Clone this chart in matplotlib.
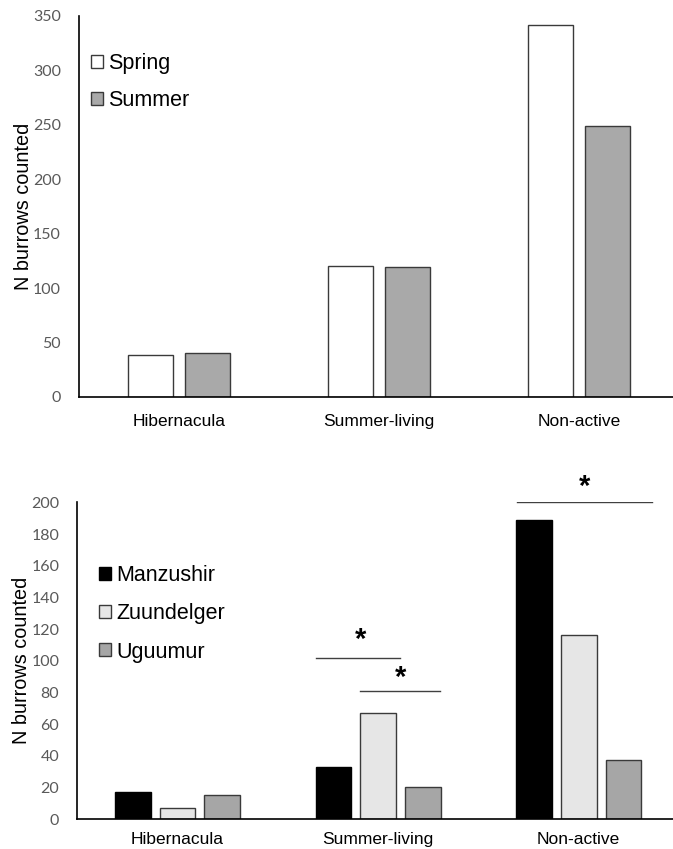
import matplotlib.pyplot as plt
import numpy as np

# ---- data ----
habitats = ["Hibernacula", "Summer-living", "Non-active"]

seasons = ["Spring", "Summer"]
spring = [39, 120, 342]
summer = [40, 119, 249]

sites = ["Manzushir", "Zuundelger", "Uguumur"]
manzushir = [17, 33, 189]
zuundelger = [7, 67, 116]
uguumur = [15, 20, 37]

# significance brackets: (x_start, x_end, y_line, x_star, y_star)
sig_lines = [
    (0.69, 1.11, 101.5, 0.91, 104),
    (0.91, 1.31, 81, 1.11, 80),
    (1.69, 2.365, 200.5, 2.03, 201),
]

FONT = ["Liberation Sans", "DejaVu Sans"]
TICKFONT = ["Lato", "DejaVu Sans"]
EDGE = "#3a3a3a"

plt.rcParams["font.family"] = FONT

fig = plt.figure(figsize=(6.73, 8.49), dpi=100)
ax1 = fig.add_axes([0.1174, 0.5324, 0.8826, 0.4488])
ax2 = fig.add_axes([0.1149, 0.0353, 0.8851, 0.3730])

x = np.arange(len(habitats))


def style(ax, ymax, step, xpad):
    ax.set_ylim(0, ymax)
    ax.set_xlim(-0.5, 2.47)
    ax.set_yticks(np.arange(0, ymax + 1, step))
    ax.set_xticks(x)
    ax.set_xticklabels(habitats, fontsize=12.5)
    for lab in ax.get_yticklabels():
        lab.set_family(TICKFONT)
        lab.set_fontsize(11.5)
        lab.set_color("#595959")
    ax.tick_params(axis="y", length=0, pad=13)
    ax.tick_params(axis="x", length=0, pad=xpad)
    for s in ("top", "right"):
        ax.spines[s].set_visible(False)
    ax.spines["left"].set_linewidth(1.2)
    ax.spines["bottom"].set_linewidth(1.2)
    ax.set_ylabel("N burrows counted", fontsize=14.3, labelpad=0)


# ---- top: seasons ----
w1 = 0.225
off1 = 0.143
b_sp = ax1.bar(x - off1, spring, w1, color="white", edgecolor=EDGE, lw=1.0, label=seasons[0])
b_su = ax1.bar(x + off1, summer, w1, color="#a9a9a9", edgecolor=EDGE, lw=1.0, label=seasons[1])
style(ax1, 350, 50, 12)
ax1.legend(handles=[b_sp, b_su], loc="center left", bbox_to_anchor=(0.02, 0.827),
           frameon=False, fontsize=15.5, handlelength=0.55, handleheight=0.55,
           handletextpad=0.25, labelspacing=0.75, borderpad=0, borderaxespad=0)

# ---- bottom: sites ----
w2 = 0.178
off2 = 0.2225
b_m = ax2.bar(x - off2, manzushir, w2, color="black", edgecolor="black", lw=1.0, label=sites[0])
b_z = ax2.bar(x, zuundelger, w2, color="#e6e6e6", edgecolor=EDGE, lw=1.0, label=sites[1])
b_u = ax2.bar(x + off2, uguumur, w2, color="#a6a6a6", edgecolor=EDGE, lw=1.0, label=sites[2])
style(ax2, 200, 20, 9)
ax2.legend(handles=[b_m, b_z, b_u], loc="center left", bbox_to_anchor=(0.037, 0.648),
           frameon=False, fontsize=15.5, handlelength=0.55, handleheight=0.55,
           handletextpad=0.25, labelspacing=0.8, borderpad=0, borderaxespad=0)

for x0, x1, yl, xs, ys in sig_lines:
    ax2.plot([x0, x1], [yl, yl], color="#404040", lw=1.0)
    ax2.text(xs, ys, "*", ha="center", va="bottom", fontsize=21,
             fontweight="bold", color="black")

fig.savefig("out.png", dpi=100)
